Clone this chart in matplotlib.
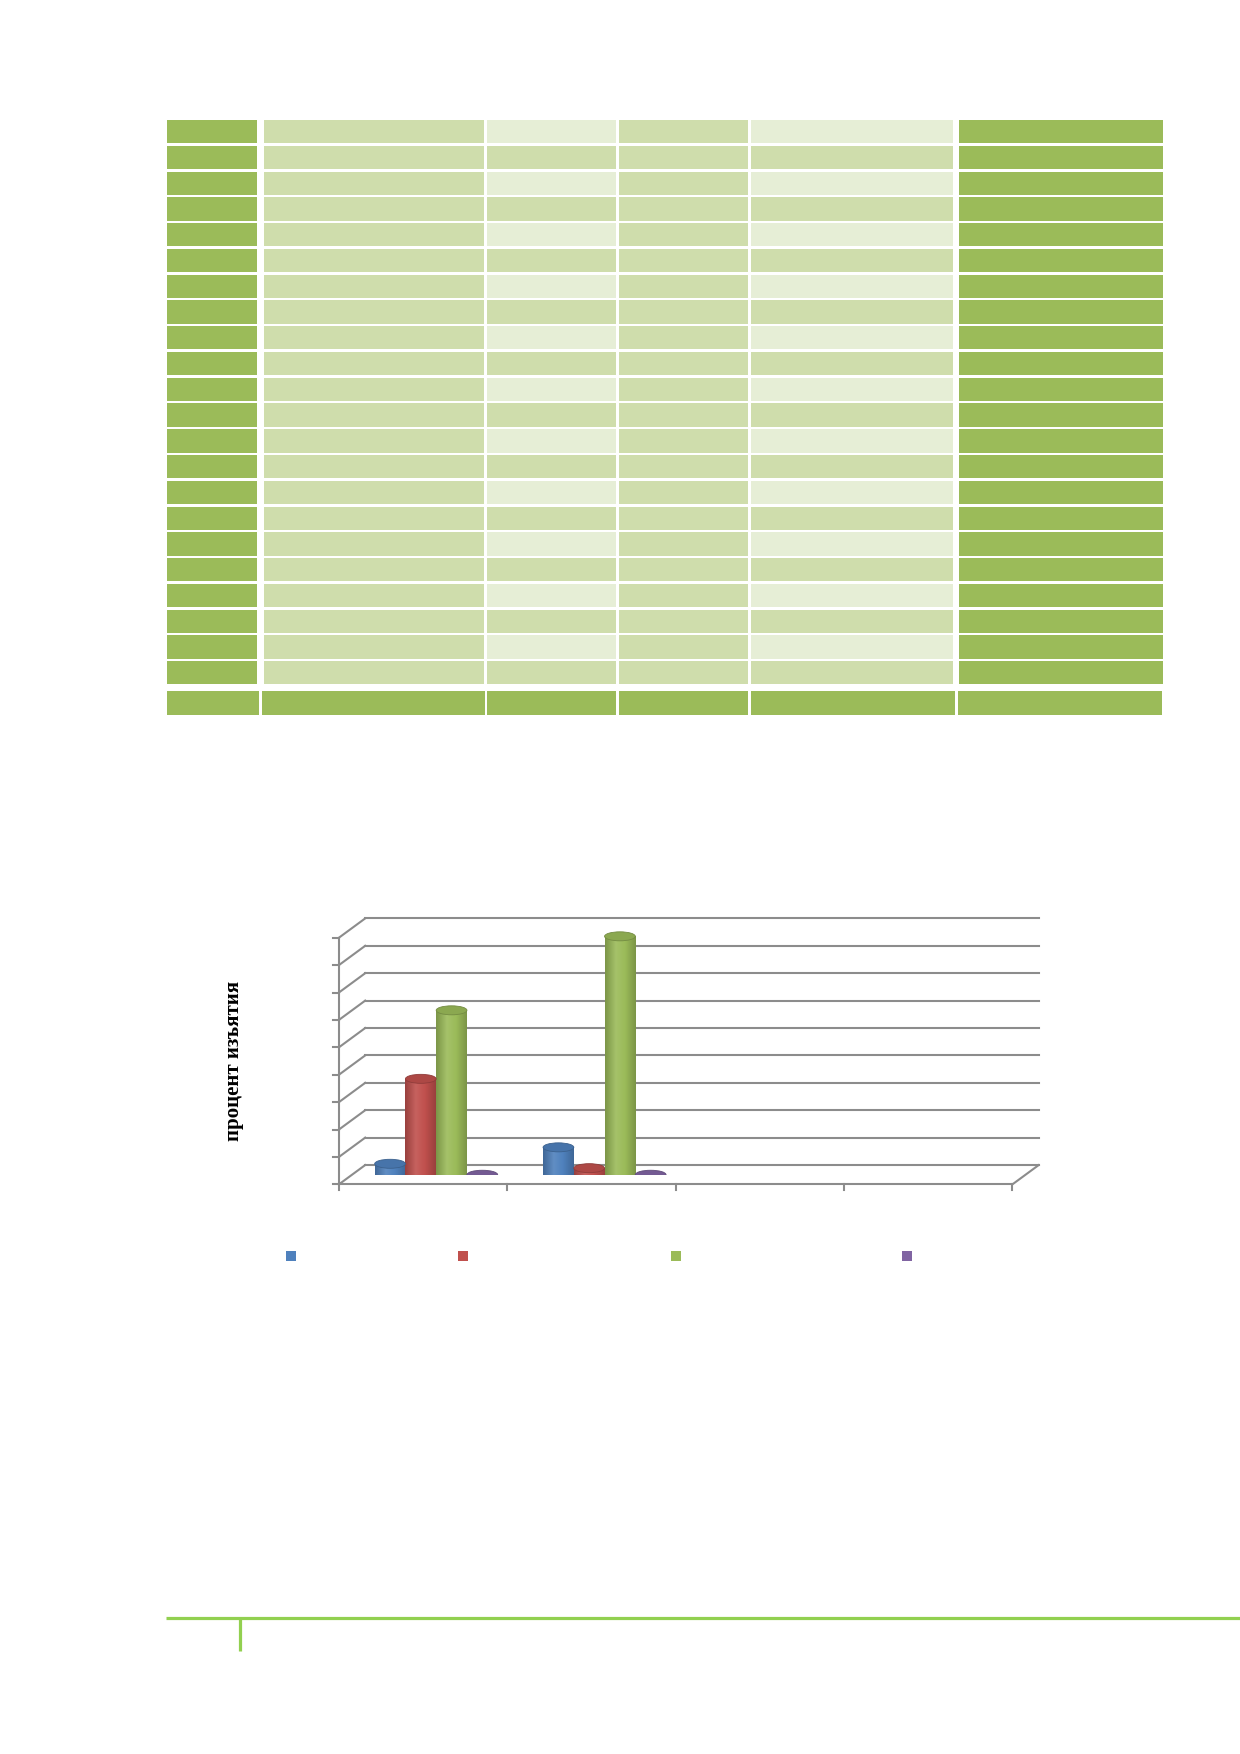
import numpy as np
import matplotlib.pyplot as plt
from matplotlib.patches import Rectangle, Ellipse
from matplotlib.colors import LinearSegmentedColormap, to_rgb

# ---- chart data (% of samples); groups 3-4 are empty ----
groups = ['1', '2', '3', '4']
series_colors = ['#4F81BD', '#C0504D', '#9BBB59', '#8064A2']
nan = float('nan')
vals_s1 = [4, 10, nan, nan]
vals_s2 = [35, 2.4, nan, nan]
vals_s3 = [60, 87, nan, nan]
vals_s4 = [0, 0, nan, nan]
yticks = np.arange(0, 91, 10)
ylabel = 'процент изъятия'

# ---- table shading (the table has no visible text) ----
n_rows = 22
col_left = [166.7, 264, 486.7, 619, 751, 959.3]
col_right = [257.3, 484, 616, 748, 952.7, 1162.7]
tot_left = [166.7, 262, 486.7, 619, 751, 957.7]
tot_right = [259, 485, 616, 748, 955, 1161.7]
dark = '#9BBB59'
mid = '#CFDDAC'
light = '#E6EED6'

fig = plt.figure(figsize=(12.4, 17.54), dpi=100)

# page layer in pixel coordinates
bg = fig.add_axes([0, 0, 1, 1])
bg.set_xlim(0, 1240)
bg.set_ylim(1754, 0)
bg.axis('off')

row_top0 = 120
pitch = 25.77
row_h = 23.3
for c in range(6):
    cols = []
    for r in range(n_rows):
        if c in (0, 5):
            cols.append(dark)
        elif c in (1, 3):
            cols.append(mid)
        else:
            cols.append(light if r % 2 == 0 else mid)
    centers = row_top0 + np.arange(n_rows) * pitch + row_h / 2
    bg.barh(centers, col_right[c] - col_left[c], left=col_left[c],
            height=row_h, color=cols, linewidth=0)
# total row
for c in range(6):
    bg.barh(690.7 + 12.3, tot_right[c] - tot_left[c], left=tot_left[c],
            height=24.6, color=dark, linewidth=0)

# footer rule
bg.plot([166, 1240], [1617.7, 1617.7], color='#92D050', lw=2.3, solid_capstyle='butt')
bg.plot([240, 240], [1617.7, 1651], color='#92D050', lw=2.3, solid_capstyle='butt')

# legend markers (labels are blank in the source)
leg_x = [291, 462.7, 676, 907]
for lx, col in zip(leg_x, series_colors):
    bg.add_patch(Rectangle((lx - 5, 1250.7), 10, 10, color=col, lw=0))

# ---- pseudo 3D cylinder chart ----
# axes = mid-depth plane of the plot box
x0, x1 = 352, 1025.5
yb, yt = 1174.75, 928.1
ax = fig.add_axes([x0 / 1240, 1 - yb / 1754, (x1 - x0) / 1240, (yb - yt) / 1754])
ax.set_facecolor('none')
for s in ax.spines.values():
    s.set_visible(False)
ax.set_xticks([])
ax.set_yticks([])

px_x = (x1 - x0) / 4.0
px_y = (yb - yt) / 90.0
dx = 13.2 / px_x       # depth offset in data units
dy = 9.7 / px_y
grid_c = '#8C8C8C'
glw = 1.5

for v in yticks:
    # back wall line + side wall diagonal
    ax.plot([0 + dx, 4 + dx], [v + dy, v + dy], color=grid_c, lw=glw, clip_on=False, zorder=1)
    ax.plot([0 - dx, 0 + dx], [v - dy, v + dy], color=grid_c, lw=glw, clip_on=False, zorder=1)
    # tick on the front value axis
    ax.plot([-dx - 6 / px_x, -dx], [v - dy, v - dy], color=grid_c, lw=glw, clip_on=False, zorder=1)
# front value axis
ax.plot([-dx, -dx], [0 - dy, 90 - dy], color=grid_c, lw=glw, clip_on=False, zorder=1)
# floor front edge + right edge
ax.plot([-dx, 4 - dx], [-dy, -dy], color=grid_c, lw=glw, clip_on=False, zorder=1)
ax.plot([4 - dx, 4 + dx], [-dy, dy], color=grid_c, lw=glw, clip_on=False, zorder=1)
for i in range(5):
    ax.plot([i - dx, i - dx], [-dy, -dy - 6 / px_y], color=grid_c, lw=glw, clip_on=False, zorder=1)


def shade(col, f):
    r = np.array(to_rgb(col))
    if f < 1:
        return tuple(r * f)
    return tuple(r + (1 - r) * (f - 1))


bw = 30.75 / px_x
eh = 9.0 / px_y
series = [vals_s1, vals_s2, vals_s3, vals_s4]
grad = np.linspace(0, 1, 64).reshape(1, -1)

for k, (vals, col) in enumerate(zip(series, series_colors)):
    cmap = LinearSegmentedColormap.from_list(
        'cyl', [(0, shade(col, 0.80)), (0.35, shade(col, 1.10)),
                (0.65, shade(col, 1.0)), (1, shade(col, 0.80))])
    for i, v in enumerate(vals):
        if np.isnan(v):
            continue
        xc = i + 0.5 + (k - 1.5) * bw
        if v > 0:
            body = ax.bar(xc, v, width=bw, bottom=0, color='none', lw=0, zorder=3)[0]
            im = ax.imshow(grad, cmap=cmap, aspect='auto', zorder=3,
                           extent=[xc - bw / 2, xc + bw / 2, 0, v])
            im.set_clip_path(body)
            bot = Ellipse((xc, 0), bw, eh, facecolor='none', lw=0, zorder=3)
            ax.add_patch(bot)
            im2 = ax.imshow(grad, cmap=cmap, aspect='auto', zorder=3,
                            extent=[xc - bw / 2, xc + bw / 2, -eh / 2, eh / 2])
            im2.set_clip_path(bot)
        top = Ellipse((xc, v), bw, eh, facecolor=shade(col, 0.9),
                      edgecolor=shade(col, 0.75), lw=0.6, zorder=4)
        ax.add_patch(top)

ax.set_xlim(0, 4)
ax.set_ylim(0, 90)
ax.set_ylabel(ylabel, family='Liberation Serif', fontweight='bold', fontsize=15)
ax.yaxis.set_label_coords((243.7 - x0) / (x1 - x0), (yb - 1061) / (yb - yt))

fig.savefig('out.png', dpi=100)
